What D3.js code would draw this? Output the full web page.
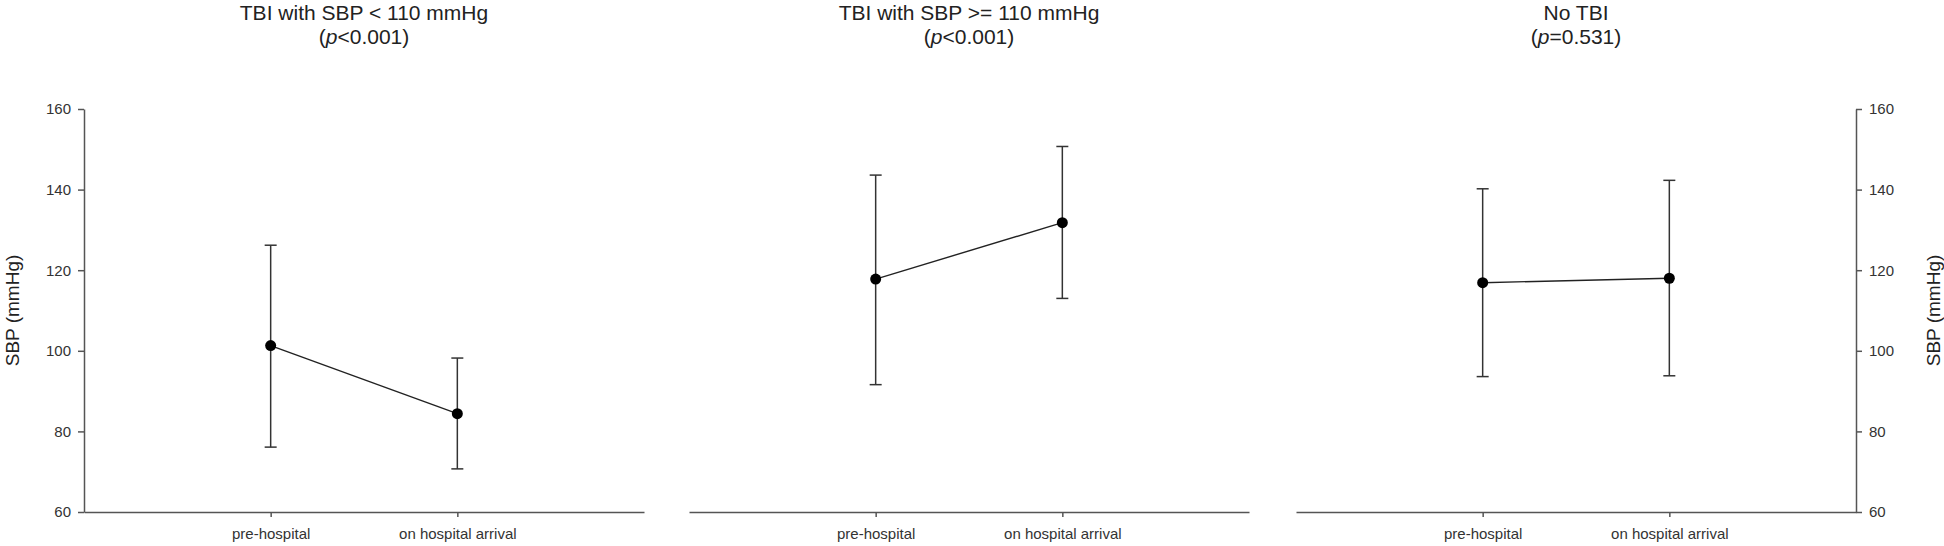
<!DOCTYPE html>
<html>
<head>
<meta charset="utf-8">
<script src="https://cdn.jsdelivr.net/npm/d3@7"></script>
<style>
  body { margin: 0; background: #fff; }
  svg { display: block; font-family: "Liberation Sans", Arial, sans-serif; }
  .axis path, .axis line { stroke: #555; stroke-width: 1.5; }
  .axis text { fill: #333; font-size: 15px; }
</style>
</head>
<body>
<svg width="1944" height="546"></svg>
<script>
// values (mean with error bars)
var categories = ["pre-hospital", "on hospital arrival"];
var panelTitles = ["TBI with SBP < 110 mmHg", "TBI with SBP >= 110 mmHg", "No TBI"];
var pValues = ["<0.001", "<0.001", "=0.531"];
var meanSBP = [[101.3, 84.4], [117.8, 131.8], [116.9, 118.0]];
var upperSBP = [[126.2, 98.2], [143.6, 150.7], [140.2, 142.3]];
var lowerSBP = [[76.1, 70.7], [91.6, 113.0], [93.6, 93.8]];
var yTicks = [60, 80, 100, 120, 140, 160];
var yTitle = "SBP (mmHg)";

var svg = d3.select("svg");
var panelLeft = [84, 689, 1296];
var panelWidth = 560;
var plotTop = 109, plotBottom = 512;

var y = d3.scaleLinear().domain([60, 160]).range([plotBottom, plotTop]);

panelLeft.forEach(function(x0, i) {
    var x = d3.scalePoint()
        .domain(categories)
        .range([x0, x0 + panelWidth])
        .padding(1);

    var g = svg.append("g");

    // x axis
    var xa = g.append("g")
        .attr("class", "axis")
        .attr("transform", "translate(0," + plotBottom + ")")
        .call(d3.axisBottom(x).tickSize(5).tickSizeOuter(0));
    xa.selectAll("text").attr("dy", "1.25em");

    // y axis left on first, right on last
    if (i == 0) {
        g.append("g")
            .attr("class", "axis")
            .attr("transform", "translate(" + x0 + ",0)")
            .call(d3.axisLeft(y).tickValues(yTicks).tickSize(6).tickSizeOuter(0).tickPadding(7));
        g.append("text")
            .attr("transform", "translate(19," + (plotTop + plotBottom) / 2 + ") rotate(-90)")
            .attr("text-anchor", "middle")
            .attr("font-size", "19px")
            .attr("fill", "#222")
            .text(yTitle);
    }
    if (i == 2) {
        var xr = x0 + panelWidth;
        g.append("g")
            .attr("class", "axis")
            .attr("transform", "translate(" + xr + ",0)")
            .call(d3.axisRight(y).tickValues(yTicks).tickSize(6).tickSizeOuter(0).tickPadding(7));
        g.append("text")
            .attr("transform", "translate(1940," + (plotTop + plotBottom) / 2 + ") rotate(-90)")
            .attr("text-anchor", "middle")
            .attr("font-size", "19px")
            .attr("fill", "#222")
            .text(yTitle);
    }

    // titles
    var cx = x0 + panelWidth / 2;
    g.append("text")
        .attr("x", cx).attr("y", 20)
        .attr("text-anchor", "middle")
        .attr("font-size", "21px")
        .attr("fill", "#222")
        .text(panelTitles[i]);
    var t2 = g.append("text")
        .attr("x", cx).attr("y", 44)
        .attr("text-anchor", "middle")
        .attr("font-size", "21px")
        .attr("fill", "#222");
    t2.append("tspan").text("(");
    t2.append("tspan").attr("font-style", "italic").text("p");
    t2.append("tspan").text(pValues[i] + ")");

    var pts = categories.map(function(c, j) {
        return { c: c, m: meanSBP[i][j], hi: upperSBP[i][j], lo: lowerSBP[i][j] };
    });

    // error bars
    var eb = g.selectAll(".eb").data(pts).enter().append("g")
        .attr("stroke", "#333").attr("stroke-width", 1.5);
    eb.append("line")
        .attr("x1", function(d) { return x(d.c); })
        .attr("x2", function(d) { return x(d.c); })
        .attr("y1", function(d) { return y(d.hi); })
        .attr("y2", function(d) { return y(d.lo); });
    eb.append("line")
        .attr("x1", function(d) { return x(d.c) - 6; })
        .attr("x2", function(d) { return x(d.c) + 6; })
        .attr("y1", function(d) { return y(d.hi); })
        .attr("y2", function(d) { return y(d.hi); });
    eb.append("line")
        .attr("x1", function(d) { return x(d.c) - 6; })
        .attr("x2", function(d) { return x(d.c) + 6; })
        .attr("y1", function(d) { return y(d.lo); })
        .attr("y2", function(d) { return y(d.lo); });

    // connecting line
    g.append("path")
        .datum(pts)
        .attr("fill", "none")
        .attr("stroke", "#222")
        .attr("stroke-width", 1.4)
        .attr("d", d3.line()
            .x(function(d) { return x(d.c); })
            .y(function(d) { return y(d.m); }));

    g.selectAll(".dot").data(pts).enter().append("circle")
        .attr("cx", function(d) { return x(d.c); })
        .attr("cy", function(d) { return y(d.m); })
        .attr("r", 5.5)
        .attr("fill", "#000");
});
</script>
</body>
</html>
